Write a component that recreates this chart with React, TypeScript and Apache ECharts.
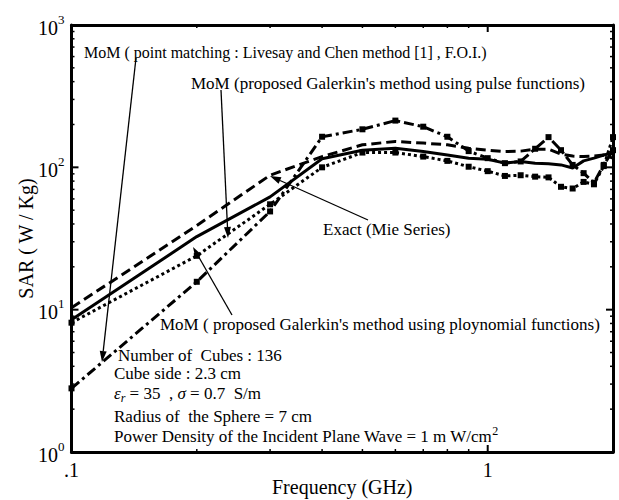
import React, { useEffect, useRef } from "react";
import * as echarts from "echarts";

// ---- data ----
const freqs = [0.1, 0.2, 0.3, 0.4, 0.5, 0.6, 0.7, 0.8, 0.9, 1.0, 1.1, 1.2, 1.3, 1.4, 1.5, 1.6, 1.7, 1.8, 1.9, 2.0];
const exactMie = [10.3, 39, 88, 119, 144, 152, 148, 144, 136, 132, 129, 130, 134, 134, 124, 120, 119, 120, 122, 116];
const momPolynomial = [8.5, 32.6, 62, 115, 132, 136, 129, 122, 116, 114, 107, 110, 107, 106, 104, 99, 111, 116, 122, 126];
const momPulse = [8.1, 23.9, 55, 100, 127, 127, 119, 111, 101, 94, 87, 88, 86, 85, 73, 71, 79, 76, 102, 163];
const momPointMatching = [2.8, 15.7, 49, 164, 185, 213, 193, 164, 130, 116, 107, 110, 135, 163, 132, 104, 91, 78, 104, 132];

const xMajor = [0.1, 1];
const xMinor = [0.2, 0.3, 0.4, 0.5, 0.6, 0.7, 0.8, 0.9];
const yMajor = [1, 10, 100, 1000];
const yMinor = [2, 3, 4, 5, 6, 7, 8, 9, 20, 30, 40, 50, 60, 70, 80, 90, 200, 300, 400, 500, 600, 700, 800, 900];

const FONT = "Liberation Serif, Times New Roman, serif";

// annotation layout (pixels)
const annotations = [
  { text: "MoM ( point matching : Livesay and Chen method [1] , F.O.I.)", x: 84, y: 52, size: 16 },
  { text: "MoM (proposed Galerkin's method using pulse functions)", x: 191, y: 83, size: 17 },
  { text: "Exact (Mie Series)", x: 323, y: 229, size: 17 },
  { text: "MoM ( proposed Galerkin's method using ploynomial functions)", x: 160, y: 324, size: 17 },
];
const arrows = [
  [136, 58, 102, 362],
  [221, 90, 228, 238],
  [368, 220, 270, 176],
  [232, 315, 193, 247],
];
const infoLines = [
  { text: "Number of  Cubes : 136", x: 118, y: 355, size: 17 },
  { text: "Cube side : 2.3 cm", x: 114, y: 373, size: 17 },
  { text: "{i|ε}{sub|r} = 35  , {i|σ} = 0.7  S/m", x: 114, y: 393, size: 17 },
  { text: "Radius of  the Sphere = 7 cm", x: 114, y: 416, size: 17 },
  { text: "Power Density of the Incident Plane Wave = 1 m W/cm{sup|2}", x: 114, y: 436, size: 17 },
];

function buildGraphic() {
  const els: any[] = [];
  const rich = {
    i: { fontFamily: FONT, fontSize: 17, fontStyle: "italic", fill: "#000" },
    sub: { fontFamily: FONT, fontSize: 12, fontStyle: "italic", padding: [10, 0, 0, 0], verticalAlign: "bottom", fill: "#000" },
    sup: { fontFamily: FONT, fontSize: 12, padding: [0, 0, 10, 0], verticalAlign: "top", fill: "#000" },
  };
  [...annotations, ...infoLines].forEach((a) => {
    els.push({
      type: "text",
      x: a.x,
      y: a.y,
      z: 100,
      style: {
        text: a.text,
        fill: "#000",
        fontFamily: FONT,
        fontSize: a.size,
        verticalAlign: "middle",
        align: "left",
        rich,
      },
    });
  });
  arrows.forEach(([x1, y1, x2, y2]) => {
    const dx = x2 - x1;
    const dy = y2 - y1;
    const len = Math.sqrt(dx * dx + dy * dy);
    const ux = dx / len;
    const uy = dy / len;
    const L = 11;
    const W = 3.5;
    const bx = x2 - ux * L;
    const by = y2 - uy * L;
    els.push({
      type: "line",
      z: 100,
      shape: { x1, y1, x2: bx, y2: by },
      style: { stroke: "#000", lineWidth: 1.3 },
    });
    els.push({
      type: "polygon",
      z: 100,
      shape: {
        points: [
          [x2, y2],
          [bx - uy * W, by + ux * W],
          [bx + uy * W, by - ux * W],
        ],
      },
      style: { fill: "#000" },
    });
  });
  return els;
}

function App() {
  const ref = useRef<HTMLDivElement>(null);
  useEffect(() => {
    if (!ref.current) return;
    const chart = echarts.init(ref.current, null, { renderer: "svg" });
    const axisLine = { show: true, onZero: false, lineStyle: { color: "#000", width: 3 } };
    const xBase = { type: "log", min: 0.1, max: 2, logBase: 10, splitLine: { show: false }, axisTick: { show: false } };
    const yBase = { type: "log", min: 1, max: 1000, logBase: 10, splitLine: { show: false }, axisTick: { show: false } };
    const line = (name: string, vals: number[], style: any, sym: boolean) => ({
      name,
      type: "line",
      data: freqs.map((f, i) => [f, vals[i]]),
      xAxisIndex: 0,
      yAxisIndex: 0,
      symbol: sym ? "rect" : "none",
      showSymbol: sym,
      symbolSize: 6,
      itemStyle: { color: "#000" },
      lineStyle: { color: "#000", width: 3, ...style },
      z: 5,
    });
    const xTickData = [...xMajor.map((v) => [v, 1, 1]), ...xMinor.map((v) => [v, 1, 0])];
    const yTickData = [...yMajor.map((v) => [0.1, v, 1]), ...yMinor.map((v) => [0.1, v, 0])];
    chart.setOption({
      animation: false,
      backgroundColor: "#fff",
      grid: { left: 71.5, right: 6, top: 25, bottom: 48, outerBoundsMode: "none", containLabel: false },
      xAxis: [
        {
          ...xBase,
          position: "bottom",
          axisLine,
          axisLabel: {
            formatter: (v: number) => (Math.abs(v - 0.1) < 1e-6 ? ".1" : Math.abs(v - 1) < 1e-6 ? "1" : ""),
            fontFamily: FONT,
            fontSize: 20,
            color: "#000",
            margin: 8,
          },
          name: "Frequency (GHz)",
          nameLocation: "middle",
          nameGap: 25,
          nameMoveOverlap: false,
          nameTextStyle: { fontFamily: FONT, fontSize: 20, color: "#000" },
        },
        { ...xBase, position: "top", axisLine, axisLabel: { show: false } },
      ],
      yAxis: [
        {
          ...yBase,
          position: "left",
          axisLine,
          axisLabel: {
            margin: 7,
            formatter: (v: number) => `{b|10}{s|${Math.round(Math.log10(v))}}`,
            rich: {
              b: { fontFamily: FONT, fontSize: 20, color: "#000", padding: [5, 0, 0, 0], verticalAlign: "bottom" },
              s: { fontFamily: FONT, fontSize: 13, color: "#000", verticalAlign: "top" },
            },
          },
          name: "SAR ( W / Kg)",
          nameLocation: "middle",
          nameGap: 36,
          nameMoveOverlap: false,
          nameTextStyle: { fontFamily: FONT, fontSize: 20, color: "#000" },
        },
        { ...yBase, position: "right", axisLine, axisLabel: { show: false } },
      ],
      series: [
        line("Exact (Mie Series)", exactMie, { type: [10, 5] }, false),
        line("MoM polynomial", momPolynomial, { type: "solid" }, false),
        line("MoM pulse", momPulse, { type: [3, 3] }, true),
        line("MoM point matching", momPointMatching, { type: [10, 4, 3, 4] }, true),
        {
          type: "custom",
          name: "xTicks",
          silent: true,
          z: 10,
          xAxisIndex: 0,
          yAxisIndex: 0,
          encode: { x: 0, y: 1 },
          data: xTickData,
          renderItem: (_p: any, api: any) => {
            const v = api.value(0);
            const major = api.value(2) === 1;
            const b = api.coord([v, 1]);
            const t = api.coord([v, 1000]);
            const len = major ? 7 : 3;
            const w = major ? 2 : 1.5;
            return {
              type: "group",
              children: [
                { type: "line", shape: { x1: b[0], y1: b[1], x2: b[0], y2: b[1] - len }, style: { stroke: "#000", lineWidth: w } },
                { type: "line", shape: { x1: t[0], y1: t[1], x2: t[0], y2: t[1] + len }, style: { stroke: "#000", lineWidth: w } },
              ],
            };
          },
        },
        {
          type: "custom",
          name: "yTicks",
          silent: true,
          z: 10,
          xAxisIndex: 0,
          yAxisIndex: 0,
          encode: { x: 0, y: 1 },
          data: yTickData,
          renderItem: (_p: any, api: any) => {
            const v = api.value(1);
            const major = api.value(2) === 1;
            const l = api.coord([0.1, v]);
            const r = api.coord([2, v]);
            const len = major ? 7 : 3;
            const w = major ? 2 : 1.5;
            return {
              type: "group",
              children: [
                { type: "line", shape: { x1: l[0], y1: l[1], x2: l[0] + len, y2: l[1] }, style: { stroke: "#000", lineWidth: w } },
                { type: "line", shape: { x1: r[0], y1: r[1], x2: r[0] - len, y2: r[1] }, style: { stroke: "#000", lineWidth: w } },
              ],
            };
          },
        },
      ],
      graphic: buildGraphic(),
    });
    return () => chart.dispose();
  }, []);
  return (
    <div
      ref={ref}
      style={{ position: "absolute", left: 0, top: 0, width: 619, height: 500, background: "#fff" }}
    />
  );
}

export default App;
